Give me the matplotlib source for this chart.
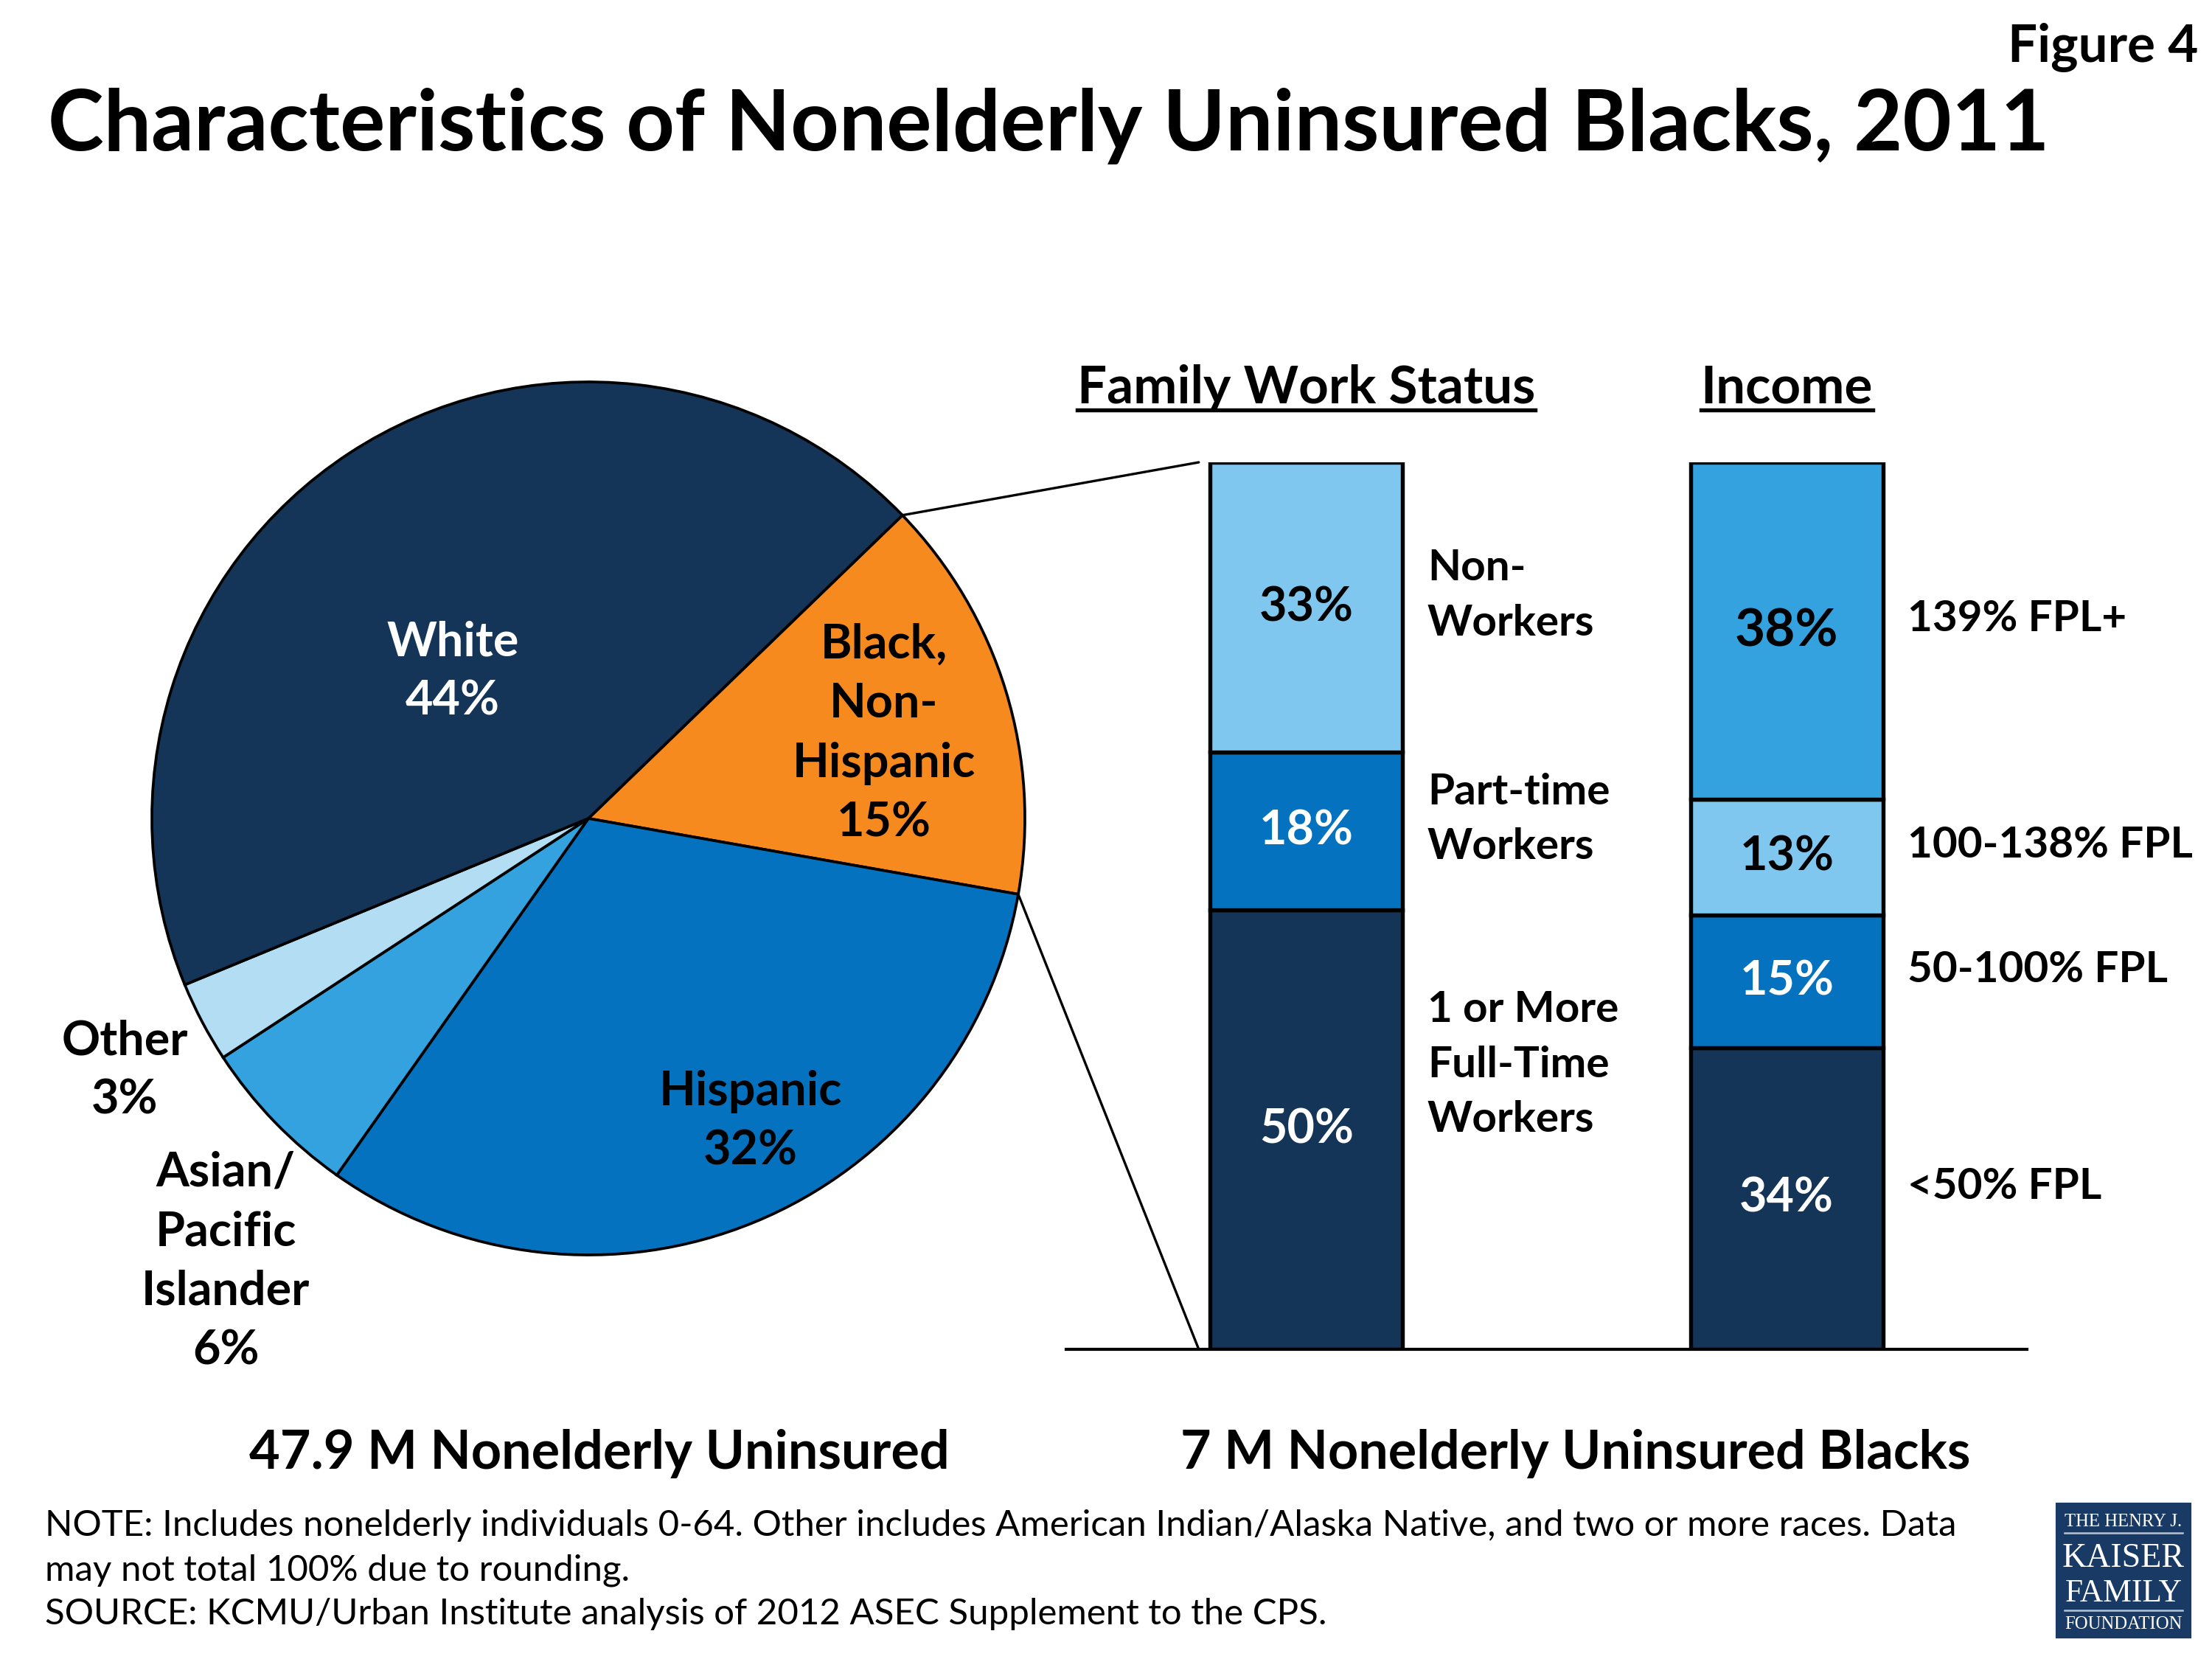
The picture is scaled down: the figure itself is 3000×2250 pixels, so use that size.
import matplotlib
matplotlib.use('Agg')
import matplotlib.pyplot as plt
from matplotlib import transforms
from matplotlib.patches import ConnectionPatch, Rectangle
from matplotlib.lines import Line2D
import numpy as np

# ---------------- data ----------------
race_names = ['Black,\nNon-\nHispanic', 'Hispanic', 'Asian/\nPacific\nIslander', 'Other', 'White']
race_pct = [15, 32, 6, 3, 44]
race_colors = ['#F68A1F', '#0472BF', '#33A2DF', '#B3DDF2', '#153558']

work_names = ['1 or More\nFull-Time\nWorkers', 'Part-time\nWorkers', 'Non-\nWorkers']
work_pct = [50, 18, 33]
work_colors = ['#153558', '#0472BF', '#7FC7EE']

income_names = ['<50% FPL', '50-100% FPL', '100-138% FPL', '139% FPL+']
income_pct = [34, 15, 13, 38]
income_colors = ['#153558', '#0472BF', '#7FC7EE', '#33A2DF']

bar_groups = ['Family Work Status', 'Income']

W, H = 3000, 2250
FONT = 'Lato'
plt.rcParams['font.family'] = [FONT, 'DejaVu Sans']

fig = plt.figure(figsize=(10, 7.5), dpi=300)
renderer = fig.canvas.get_renderer()


def ftext(x, y, s, **kw):
    # place text with pixel coords measured from the top-left corner
    return fig.text(x / W, 1 - y / H, s, **kw)


def fit(t, width_px):
    bb = t.get_window_extent(renderer)
    t.set_fontsize(t.get_fontsize() * width_px / bb.width)


# ---------------- pie ----------------
cx, cy, r = 798, 1110, 592
ax_pie = fig.add_axes([(cx - r) / W, 1 - (cy + r) / H, 2 * r / W, 2 * r / H])
wedges, _ = ax_pie.pie(race_pct, colors=race_colors, startangle=44, counterclock=False,
                       radius=1, wedgeprops=dict(edgecolor='black', linewidth=0.9))
ax_pie.set_xlim(-1, 1)
ax_pie.set_ylim(-1, 1)
ax_pie.set_aspect('equal')
ax_pie.axis('off')

pie_label_pos = {'White': (-0.311, 0.336), 'Black,\nNon-\nHispanic': (0.677, 0.194),
                 'Hispanic': (0.372, -0.694), 'Other': (-1.062, -0.578),
                 'Asian/\nPacific\nIslander': (-0.831, -1.015)}
for name, pct in zip(race_names, race_pct):
    px, py = pie_label_pos[name]
    col = 'white' if name == 'White' else 'black'
    ax_pie.text(px, py, '{}\n{}%'.format(name, pct), ha='center', va='center', color=col,
                fontsize=15.5, fontweight='bold', linespacing=1.45, clip_on=False)

# ---------------- stacked bars ----------------
ax_bar = fig.add_axes([1446 / W, 1 - 1830 / H, 1303 / W, 1203 / H])
ax_bar.set_xlim(-0.5, 1.5)
ax_bar.set_ylim(0, 100)
bar_w = 0.4

label_nudge = {'1 or More\nFull-Time\nWorkers': 6}
for xpos, names, vals, cols in [(0, work_names, work_pct, work_colors),
                                (1, income_names, income_pct, income_colors)]:
    vals = np.array(vals, dtype=float)
    heights = vals / vals.sum() * 100
    bottoms = np.concatenate([[0], np.cumsum(heights)[:-1]])
    ax_bar.bar([xpos] * len(vals), heights, bottom=bottoms, width=bar_w, color=cols,
               edgecolor='black', linewidth=1.3, zorder=2)
    for name, v, h, b, c in zip(names, vals, heights, bottoms, cols):
        tc = 'black' if c in ('#7FC7EE', '#33A2DF') else 'white'
        fs = 17 if v == max(income_pct) and xpos == 1 else 15.5
        ax_bar.text(xpos, b + h / 2, '{:d}%'.format(int(v)), ha='center', va='center',
                    color=tc, fontsize=fs, fontweight='bold')
        ax_bar.text(xpos + 0.252, b + h / 2 + 1.3 + label_nudge.get(name, 0), name,
                    ha='left', va='center', fontsize=14, fontweight='bold', linespacing=1.5)

for s in ['top', 'left', 'right']:
    ax_bar.spines[s].set_visible(False)
ax_bar.spines['bottom'].set_linewidth(1.0)
ax_bar.set_xticks([])
ax_bar.set_yticks([])
ax_bar.patch.set_visible(False)

# headers with underline
hdr_tr = transforms.blended_transform_factory(ax_bar.transData, fig.transFigure)
for xpos, g in enumerate(bar_groups):
    t = fig.text(xpos, 1 - 547 / H, g, transform=hdr_tr, ha='center', va='baseline',
                 fontsize=17, fontweight='bold')
    bb = t.get_window_extent(renderer)
    fig.add_artist(Line2D([bb.x0 / W, bb.x1 / W], [1 - 556 / H] * 2, color='black', lw=1.3))

# zoom lines from the Black wedge to the bar
bw = wedges[0]
for ang, ytop in [(bw.theta2, 100), (bw.theta1, 0)]:
    a = np.deg2rad(ang)
    con = ConnectionPatch(xyA=(np.cos(a), np.sin(a)), coordsA=ax_pie.transData,
                          xyB=(-0.224, ytop), coordsB=ax_bar.transData, color='black', lw=0.8)
    fig.add_artist(con)

# ---------------- titles / footers ----------------
t = ftext(65, 204, 'Characteristics of Nonelderly Uninsured Blacks, 2011', ha='left',
          va='baseline', fontsize=28, fontweight='bold')
fit(t, 2714)
ftext(2981, 84, 'Figure 4', ha='right', va='baseline', fontsize=17, fontweight='bold')

t = ftext(813, 1992, '47.9 M Nonelderly Uninsured', ha='center', va='baseline',
          fontsize=17, fontweight='bold')
fit(t, 952)
t = ftext(2137, 1992, '7 M Nonelderly Uninsured Blacks', ha='center', va='baseline',
          fontsize=17, fontweight='bold')
fit(t, 1073)

notes = ['NOTE: Includes nonelderly individuals 0-64. Other includes American Indian/Alaska Native, and two or more races. Data',
         'may not total 100% due to rounding.',
         'SOURCE: KCMU/Urban Institute analysis of 2012 ASEC Supplement to the CPS.']
t0 = ftext(61, 2083, notes[0], ha='left', va='baseline', fontsize=10.5)
fit(t0, 2595)
for i, y in [(1, 2144), (2, 2203)]:
    ftext(61, y, notes[i], ha='left', va='baseline', fontsize=t0.get_fontsize())

# logo
fig.add_artist(Rectangle((2790 / W, 1 - 2220 / H), 180 / W, 180 / H, color='#1A3A66',
                         transform=fig.transFigure))
serif = ['Liberation Serif', 'DejaVu Serif']
for s, y, wpx in [('THE HENRY J.', 2070, 160), ('KAISER', 2125, 166), ('FAMILY', 2172, 160),
                  ('FOUNDATION', 2209, 160)]:
    t = ftext(2880, y, s, ha='center', va='baseline', color='white', fontsize=6, family=serif)
    fit(t, wpx)
for y in [2079, 2184]:
    fig.add_artist(Line2D([2800 / W, 2960 / W], [1 - y / H] * 2, color='#B8C4D6', lw=0.6))

fig.savefig('out.png', dpi=300)
